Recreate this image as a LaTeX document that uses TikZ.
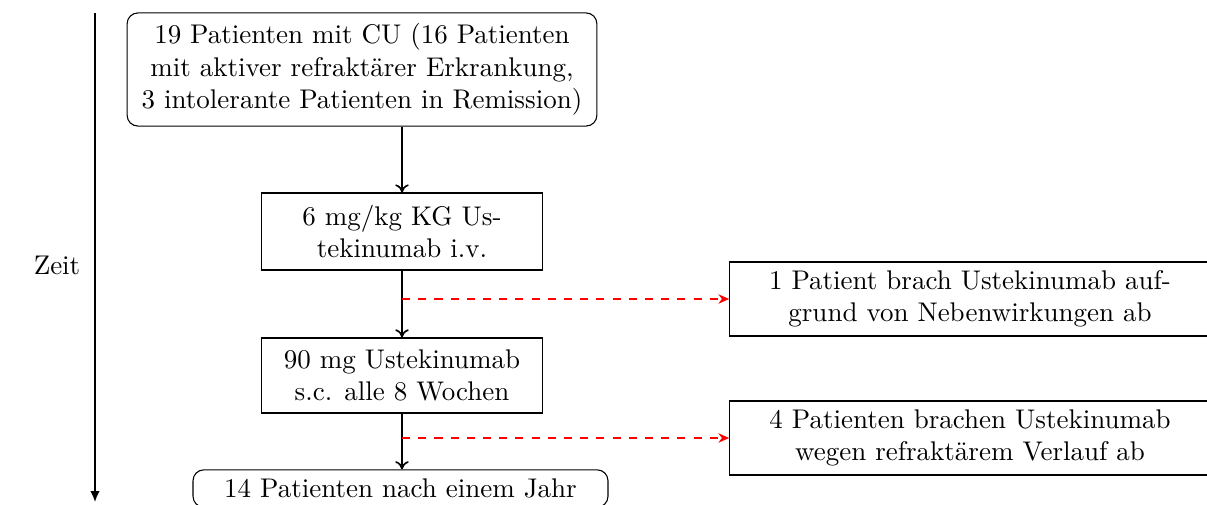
\documentclass[tikz,border=0pt]{standalone}
\usetikzlibrary{arrows.meta}
\begin{document}
\begin{tikzpicture}[x=0.3704pt,y=-0.3704pt,
  box/.style={draw, align=center, inner sep=0pt},
  rbox/.style={box, rounded corners=4pt},
  flow/.style={-{To[length=3pt,width=5pt]}, semithick},
  drop/.style={-{Stealth[length=4pt,width=3.5pt]}, red, dashed, semithick}]
\useasboundingbox (0,0) rectangle (1207,504);
\clip (0,0) rectangle (1207,504);
\node[rbox, minimum width=174pt, minimum height=41.9pt] (top) at (362,69.5)
  {19 Patienten mit CU (16 Patienten\\mit aktiver refraktärer Erkrankung,\\3 intolerante Patienten in Remission)};
\node[box, minimum width=104.4pt, minimum height=28.5pt] (iv) at (402,231.5)
  {6 mg/kg KG Us-\\tekinumab i.v.};
\node[box, minimum width=104.4pt, minimum height=27.8pt] (sc) at (402,375.5)
  {90 mg Ustekinumab\\s.c. alle 8 Wochen};
\node[draw, rounded corners=4pt, minimum width=153.7pt] (end) at (400.5,488.5)
  {14 Patienten nach einem Jahr};
\node[box, minimum width=178pt, minimum height=27.4pt] (r1) at (970,299)
  {1 Patient brach Ustekinumab auf-\\grund von Nebenwirkungen ab};
\node[box, minimum width=178pt, minimum height=27.4pt] (r2) at (970,438)
  {4 Patienten brachen Ustekinumab\\wegen refraktärem Verlauf ab};
\coordinate (ttop) at (95,13);
\coordinate (tbot) at (95,502);
\node (zeit) at (57,265) {Zeit};
\draw[semithick, -{Latex[length=4pt,width=3.5pt]}] (ttop) -- (tbot);
\draw[flow] (iv.north |- top.south) -- (iv.north);
\draw[flow] (iv.south) -- (sc.north);
\draw[flow] (sc.south) -- (sc.south |- end.north);
\draw[drop] (iv.south |- r1.west) -- (r1.west);
\draw[drop] (sc.south |- r2.west) -- (r2.west);
\end{tikzpicture}
\end{document}
